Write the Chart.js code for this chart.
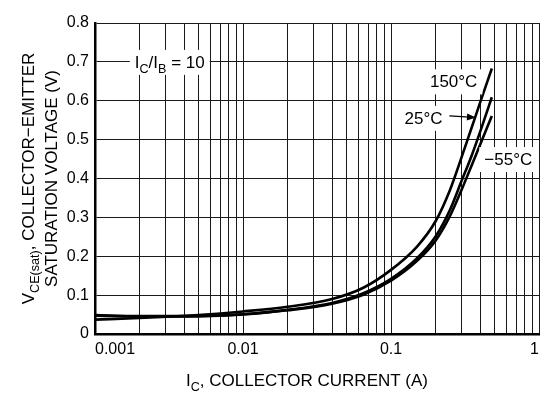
<!DOCTYPE html>
<html>
<head>
<meta charset="utf-8">
<script src="https://cdn.jsdelivr.net/npm/chart.js@4.4.0/dist/chart.umd.min.js"></script>
<style>
  html, body { margin: 0; padding: 0; background: #fff; }
</style>
</head>
<body>
<canvas id="grafico" width="550" height="393"></canvas>
<script>
// collector current (A), shared by the three curves
const correntes = [0.001, 0.002, 0.005, 0.01, 0.02, 0.04, 0.065, 0.1, 0.15, 0.2, 0.25, 0.3, 0.35, 0.4, 0.48];
// VCE(sat) in volts
const vce150 = [0.037, 0.041, 0.049, 0.058, 0.070, 0.090, 0.119, 0.165, 0.225, 0.290, 0.370, 0.455, 0.530, 0.595, 0.683];
const vce25 = [0.047, 0.045, 0.046, 0.051, 0.062, 0.080, 0.105, 0.142, 0.195, 0.251, 0.319, 0.394, 0.458, 0.520, 0.609];
const vceM55 = [0.049, 0.046, 0.046, 0.050, 0.061, 0.078, 0.101, 0.137, 0.188, 0.240, 0.303, 0.371, 0.433, 0.487, 0.561];
const temperaturas = ['150°C', '25°C', '−55°C'];

// axis ticks
const decadas = [0.001, 0.01, 0.1, 1];
const decadaLabels = ['0.001', '0.01', '0.1', '1'];
const yTicks = [0, 0.1, 0.2, 0.3, 0.4, 0.5, 0.6, 0.7, 0.8];
const yLabels = ['0', '0.1', '0.2', '0.3', '0.4', '0.5', '0.6', '0.7', '0.8'];

// grid lines 1..9 in each decade
function linhas_grade() {
    var lista = [];
    for (let d = 0; d < decadas.length - 1; d++) {
        for (let m = 1; m < 10; m++) {
            lista.push(decadas[d] * m);
        }
    }
    lista.push(decadas[decadas.length - 1]);
    return lista;
}
const xGrade = linhas_grade();

const FONTE = 'Liberation Sans, Arial, sans-serif';

// texto com subscrito: partes = [[texto, sub], ...]
function largura(ctx, partes, tam) {
    let w = 0;
    partes.forEach(p => {
        ctx.font = (p[1] ? tam * 0.74 : tam) + 'px ' + FONTE;
        w += ctx.measureText(p[0]).width;
    });
    return w;
}

function escreve(ctx, partes, x, y, tam) {
    let w = largura(ctx, partes, tam);
    let px = x - w / 2;
    ctx.textBaseline = 'alphabetic';
    ctx.textAlign = 'left';
    partes.forEach(p => {
        ctx.font = (p[1] ? tam * 0.74 : tam) + 'px ' + FONTE;
        ctx.fillText(p[0], px, p[1] ? y + tam * 0.3 : y);
        px += ctx.measureText(p[0]).width;
    });
    return w;
}

// anotações em coordenadas de dados
const notas = [
    { partes: [['I', 0], ['C', 1], ['/I', 0], ['B', 1], [' = 10', 0]], x: 0.0032, y: 0.7 },
    { partes: [[temperaturas[0], 0]], x: 0.265, y: 0.65 },
    { partes: [[temperaturas[1], 0]], x: 0.166, y: 0.556 },
    { partes: [[temperaturas[2], 0]], x: 0.62, y: 0.45 }
];
const seta = { x0: 0.248, y0: 0.561, x1: 0.375, y1: 0.557 };

const textos = {
    id: 'textos',
    afterDraw(chart) {
        const ctx = chart.ctx;
        const sx = chart.scales.x, sy = chart.scales.y;
        const area = chart.chartArea;
        ctx.save();
        ctx.fillStyle = '#000';

        // anotações com fundo branco
        notas.forEach(n => {
            const tam = 17;
            const cx = sx.getPixelForValue(n.x);
            const cy = sy.getPixelForValue(n.y);
            const w = largura(ctx, n.partes, tam);
            ctx.fillStyle = '#fff';
            ctx.fillRect(cx - w / 2 - 5, cy - 12, w + 10, 25);
            ctx.fillStyle = '#000';
            escreve(ctx, n.partes, cx, cy + 6, tam);
        });

        // seta do 25°C
        const ax0 = sx.getPixelForValue(seta.x0), ay0 = sy.getPixelForValue(seta.y0);
        const ax1 = sx.getPixelForValue(seta.x1), ay1 = sy.getPixelForValue(seta.y1);
        const ang = Math.atan2(ay1 - ay0, ax1 - ax0);
        ctx.strokeStyle = '#000';
        ctx.lineWidth = 1.2;
        ctx.beginPath();
        ctx.moveTo(ax0, ay0);
        ctx.lineTo(ax1 - 6 * Math.cos(ang), ay1 - 6 * Math.sin(ang));
        ctx.stroke();
        ctx.beginPath();
        ctx.moveTo(ax1, ay1);
        ctx.lineTo(ax1 - 9 * Math.cos(ang) + 3.5 * Math.sin(ang), ay1 - 9 * Math.sin(ang) - 3.5 * Math.cos(ang));
        ctx.lineTo(ax1 - 9 * Math.cos(ang) - 3.5 * Math.sin(ang), ay1 - 9 * Math.sin(ang) + 3.5 * Math.cos(ang));
        ctx.closePath();
        ctx.fill();

        // título do eixo x
        escreve(ctx, [['I', 0], ['C', 1], [', COLLECTOR CURRENT (A)', 0]], (area.left + area.right) / 2 - 10, 386, 17);

        // título do eixo y (duas linhas)
        const meio = (area.top + area.bottom) / 2;
        ctx.translate(34, meio);
        ctx.rotate(-Math.PI / 2);
        escreve(ctx, [['V', 0], ['CE(sat)', 1], [', COLLECTOR−EMITTER', 0]], 0, 0, 17);
        ctx.rotate(Math.PI / 2);
        ctx.translate(23, 0);
        ctx.rotate(-Math.PI / 2);
        escreve(ctx, [['SATURATION VOLTAGE (V)', 0]], 0, 0, 17);
        ctx.restore();
    }
};

function renderiza_vce_sat() {
    const ctx = document.getElementById('grafico').getContext('2d');
    const series = [vce150, vce25, vceM55];
    const myChart = new Chart(ctx, {
        type: 'line',
        data: {
            datasets: series.map((s, i) => ({
                label: temperaturas[i],
                data: correntes.map((c, k) => ({ x: c, y: s[k] })),
                borderColor: '#000',
                borderWidth: 2.6,
                pointRadius: 0,
                cubicInterpolationMode: 'monotone',
                fill: false
            }))
        },
        options: {
            responsive: false,
            animation: false,
            layout: { padding: { top: 23, right: 11, left: 0, bottom: 0 } },
            plugins: { legend: { display: false }, tooltip: { enabled: false } },
            scales: {
                x: {
                    type: 'logarithmic',
                    min: 0.001,
                    max: 1,
                    afterBuildTicks: s => { s.ticks = xGrade.map(v => ({ value: v })); },
                    afterFit: s => { s.height = 59; },
                    ticks: {
                        autoSkip: false,
                        maxRotation: 0,
                        align: 'inner',
                        padding: 6,
                        color: '#000',
                        font: { family: FONTE, size: 16 },
                        callback: v => {
                            const i = decadas.indexOf(v);
                            return i >= 0 ? decadaLabels[i] : '';
                        }
                    },
                    grid: { color: '#1a1a1a', lineWidth: 1, drawTicks: false },
                    border: { color: '#000', width: 2.5 }
                },
                y: {
                    min: 0,
                    max: 0.8,
                    afterBuildTicks: s => { s.ticks = yTicks.map(v => ({ value: v })); },
                    afterFit: s => { s.width = 95; },
                    ticks: {
                        padding: 6,
                        color: '#000',
                        font: { family: FONTE, size: 16 },
                        callback: (v, i) => yLabels[i]
                    },
                    grid: { color: '#1a1a1a', lineWidth: 1, drawTicks: false },
                    border: { color: '#000', width: 2.5 }
                }
            }
        },
        plugins: [textos]
    });
}

renderiza_vce_sat();
</script>
</body>
</html>
